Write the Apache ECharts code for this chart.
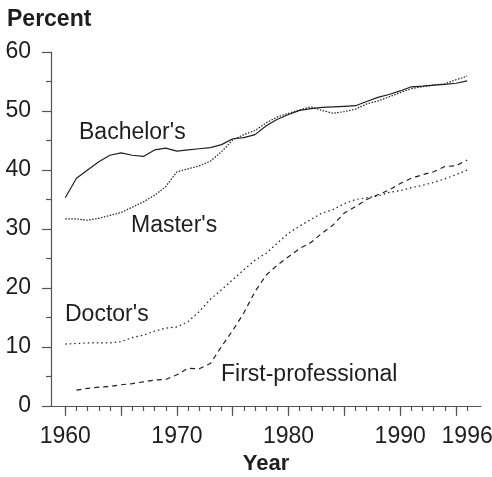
<!DOCTYPE html>
<html>
<head>
<meta charset="utf-8">
<script src="https://cdn.jsdelivr.net/npm/echarts@6/dist/echarts.min.js"></script>
<style>
  html, body { margin: 0; padding: 0; background: #fff; }
  #chart { width: 492px; height: 477px; }
</style>
</head>
<body>
<div id="chart"></div>
<script>
// values, one per year 1960..1996
var years = [];
for (var y = 1960; y <= 1996; y++) years.push(y);

var bachelors = [35.3, 38.6, 40.0, 41.4, 42.5, 42.9, 42.5, 42.3, 43.4, 43.7,
                 43.2, 43.4, 43.6, 43.8, 44.3, 45.3, 45.5, 46.0, 47.5, 48.6,
                 49.4, 50.1, 50.4, 50.6, 50.7, 50.8, 50.9, 51.6, 52.3, 52.8,
                 53.4, 54.1, 54.2, 54.4, 54.5, 54.7, 55.1];
var masters = [31.7, 31.7, 31.5, 31.8, 32.3, 32.8, 33.7, 34.6, 35.7, 37.2,
               39.7, 40.2, 40.7, 41.5, 43.1, 45.1, 46.0, 46.7, 48.0, 49.0,
               49.6, 50.2, 50.7, 50.1, 49.6, 49.9, 50.3, 51.2, 51.7, 52.4,
               53.1, 53.8, 54.1, 54.4, 54.6, 55.3, 55.9];
var doctors = [10.5, 10.6, 10.7, 10.7, 10.7, 10.9, 11.6, 12.0, 12.7, 13.2,
               13.4, 14.3, 16.0, 18.1, 19.7, 21.4, 23.1, 24.7, 25.9, 27.6,
               29.3, 30.5, 31.6, 32.7, 33.3, 34.3, 35.0, 35.3, 35.6, 36.2,
               36.5, 37.0, 37.4, 37.9, 38.5, 39.2, 40.0];
var firstProf = [null, 2.7, 3.0, 3.2, 3.3, 3.6, 3.8, 4.1, 4.4, 4.5,
                 5.3, 6.4, 6.3, 7.2, 10.1, 12.8, 15.8, 19.4, 22.2, 23.9,
                 25.3, 26.7, 27.7, 29.3, 30.7, 32.7, 33.8, 35.0, 35.8, 36.6,
                 37.7, 38.6, 39.2, 39.7, 40.6, 40.7, 41.7];

var yTicks = [0, 10, 20, 30, 40, 50, 60];
var xLabels = [1960, 1970, 1980, 1990, 1996];
var xMajor = [1960, 1965, 1970, 1975, 1980, 1985, 1990, 1995];

function pairs(vals) {
  return years.map(function (yr, i) { return [yr, vals[i]]; });
}

var ink = '#1e1e1e';
var axisInk = '#555';
var font = 'Liberation Sans, Arial, sans-serif';

var chart = echarts.init(document.getElementById('chart'));

function line(name, vals, dash) {
  return {
    name: name,
    type: 'line',
    data: pairs(vals),
    showSymbol: false,
    symbol: 'none',
    connectNulls: false,
    animation: false,
    lineStyle: { color: ink, width: 1.2, type: dash }
  };
}

function note(text, x, y) {
  return { type: 'text', x: x, y: y, style: { text: text, font: '23px ' + font, fill: ink, verticalAlign: 'top' } };
}

var option = {
  backgroundColor: '#fff',
  animation: false,
  title: {
    text: 'Percent',
    left: 7, top: 8, padding: 0,
    textStyle: { fontFamily: font, fontSize: 23, fontWeight: 'bold', color: ink }
  },
  grid: { left: 51, top: 52, width: 430, height: 354, containLabel: false, outerBoundsMode: 'none' },
  xAxis: [
    {
      type: 'value', min: 1958.72, max: 1997.24,
      axisLine: { show: true, lineStyle: { color: axisInk, width: 1.2 } },
      axisTick: { show: true, length: 5, customValues: years, lineStyle: { color: axisInk, width: 1.2 } },
      axisLabel: { show: false },
      splitLine: { show: false }
    },
    {
      type: 'value', min: 1958.72, max: 1997.24, position: 'bottom',
      axisLine: { show: false },
      axisTick: { show: true, length: 10, customValues: xMajor, lineStyle: { color: axisInk, width: 1.2 } },
      axisLabel: {
        show: true, customValues: xLabels, margin: 19,
        fontFamily: font, fontSize: 23, color: ink,
        formatter: function (v) { return String(v); }
      },
      splitLine: { show: false },
      name: 'Year', nameLocation: 'middle', nameGap: 47,
      nameTextStyle: { fontFamily: font, fontSize: 22, fontWeight: 'bold', color: ink }
    }
  ],
  yAxis: {
    type: 'value', min: 0, max: 60, interval: 10,
    axisLine: { show: true, lineStyle: { color: axisInk, width: 1.2 } },
    axisTick: { show: true, length: 9, lineStyle: { color: axisInk, width: 1.2 } },
    minorTick: { show: true, splitNumber: 2, length: 5, lineStyle: { color: axisInk, width: 1.2 } },
    axisLabel: {
      margin: 20, fontFamily: font, fontSize: 23, color: ink,
      customValues: yTicks
    },
    splitLine: { show: false }
  },
  series: [
    line("Bachelor's", bachelors, 'solid'),
    line("Master's", masters, [1.5, 1.5]),
    line("Doctor's", doctors, [1.5, 3]),
    line('First-professional', firstProf, [5, 4])
  ],
  graphic: [
    note("Bachelor's", 79, 121),
    note("Master's", 131, 214),
    note("Doctor's", 65, 303),
    note('First-professional', 221, 363)
  ]
};

chart.setOption(option);
</script>
</body>
</html>
